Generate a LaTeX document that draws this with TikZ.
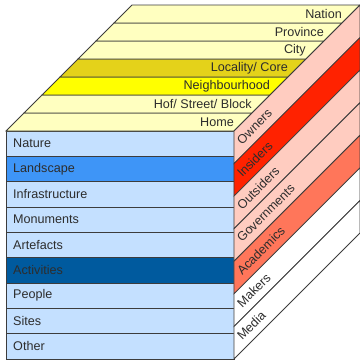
\documentclass[tikz,border=0pt]{standalone}
\usepackage{fontspec}
\setmainfont{Liberation Sans}
\definecolor{edgegray}{RGB}{60,60,60}
\definecolor{textgray}{RGB}{45,45,45}
\definecolor{paleyellow}{RGB}{255,255,192}
\definecolor{darkyellow}{RGB}{228,210,26}
\definecolor{brightyellow}{RGB}{255,255,0}
\definecolor{palepink}{RGB}{255,204,192}
\definecolor{brightred}{RGB}{255,34,0}
\definecolor{salmon}{RGB}{255,118,90}
\definecolor{frontblue}{RGB}{196,224,255}
\definecolor{midblue}{RGB}{62,149,247}
\definecolor{deepblue}{RGB}{0,90,158}
\begin{document}
\begin{tikzpicture}[x=1pt,y=-1pt,
        face/.style={draw=edgegray,line width=0.8pt},
        lbl/.style={text=textgray,font=\fontsize{12.6}{14}\selectfont,inner sep=0pt}]
        \useasboundingbox (0,0) rectangle (360,360);
        % front face
        \draw[face,fill=frontblue] (6,131) rectangle (234,156.33) ;
        \draw[face,fill=midblue] (6,156.33) rectangle (234,181.67) ;
        \draw[face,fill=frontblue] (6,181.67) rectangle (234,207) ;
        \draw[face,fill=frontblue] (6,207) rectangle (234,232.33) ;
        \draw[face,fill=frontblue] (6,232.33) rectangle (234,257.67) ;
        \draw[face,fill=deepblue] (6,257.67) rectangle (234,283) ;
        \draw[face,fill=frontblue] (6,283) rectangle (234,308.33) ;
        \draw[face,fill=frontblue] (6,308.33) rectangle (234,333.67) ;
        \draw[face,fill=frontblue] (6,333.67) rectangle (234,359) ;
        \node[lbl,anchor=west] (nature) at (13,143.67) {Nature};
        \node[lbl,anchor=west] (landscape) at (13,169) {Landscape};
        \node[lbl,anchor=west] (infra) at (13,194.33) {Infrastructure};
        \node[lbl,anchor=west] (monuments) at (13,219.67) {Monuments};
        \node[lbl,anchor=west] (artefacts) at (13,245) {Artefacts};
        \node[lbl,anchor=west] (activities) at (13,270.33) {Activities};
        \node[lbl,anchor=west] (people) at (13,295.67) {People};
        \node[lbl,anchor=west] (sites) at (13,321) {Sites};
        \node[lbl,anchor=west] (other) at (13,346.33) {Other};

        % top face
        \draw[face,fill=paleyellow] (6,131) -- (234,131) -- (252,113) -- (24,113) -- cycle ;
        \draw[face,fill=paleyellow] (24,113) -- (252,113) -- (270,95) -- (42,95) -- cycle ;
        \draw[face,fill=brightyellow] (42,95) -- (270,95) -- (288,77) -- (60,77) -- cycle ;
        \draw[face,fill=darkyellow] (60,77) -- (288,77) -- (306,59) -- (78,59) -- cycle ;
        \draw[face,fill=paleyellow] (78,59) -- (306,59) -- (324,41) -- (96,41) -- cycle ;
        \draw[face,fill=paleyellow] (96,41) -- (324,41) -- (342,23) -- (114,23) -- cycle ;
        \draw[face,fill=paleyellow] (114,23) -- (342,23) -- (360,5) -- (132,5) -- cycle ;
        \node[lbl,anchor=east] (home) at (234,122) {Home};
        \node[lbl,anchor=east] (hof) at (252,104) {Hof/ Street/ Block};
        \node[lbl,anchor=east] (neighbourhood) at (270,86) {Neighbourhood};
        \node[lbl,anchor=east] (locality) at (288,68) {Locality/ Core};
        \node[lbl,anchor=east] (city) at (306,50) {City};
        \node[lbl,anchor=east] (province) at (324,32) {Province};
        \node[lbl,anchor=east] (nation) at (342,14) {Nation};

        % side face
        \draw[face,fill=palepink] (234,131) -- (234,163.57) -- (360,37.57) -- (360,5) -- cycle ;
        \draw[face,fill=brightred] (234,163.57) -- (234,196.14) -- (360,70.14) -- (360,37.57) -- cycle ;
        \draw[face,fill=palepink] (234,196.14) -- (234,228.71) -- (360,102.71) -- (360,70.14) -- cycle ;
        \draw[face,fill=palepink] (234,228.71) -- (234,261.29) -- (360,135.29) -- (360,102.71) -- cycle ;
        \draw[face,fill=salmon] (234,261.29) -- (234,293.86) -- (360,167.86) -- (360,135.29) -- cycle ;
        \draw[face,fill=white] (234,293.86) -- (234,326.43) -- (360,200.43) -- (360,167.86) -- cycle ;
        \draw[face,fill=white] (234,326.43) -- (234,359) -- (360,233) -- (360,200.43) -- cycle ;
        \node[lbl,anchor=west,rotate=45] (owners) at (239,142.3) {Owners};
        \node[lbl,anchor=west,rotate=45] (insiders) at (239,174.9) {Insiders};
        \node[lbl,anchor=west,rotate=45] (outsiders) at (239,207.4) {Outsiders};
        \node[lbl,anchor=west,rotate=45] (governments) at (239,240) {Governments};
        \node[lbl,anchor=west,rotate=45] (academics) at (239,272.6) {Academics};
        \node[lbl,anchor=west,rotate=45] (makers) at (239,305.2) {Makers};
        \node[lbl,anchor=west,rotate=45] (media) at (239,337.7) {Media};
\end{tikzpicture}
\end{document}
